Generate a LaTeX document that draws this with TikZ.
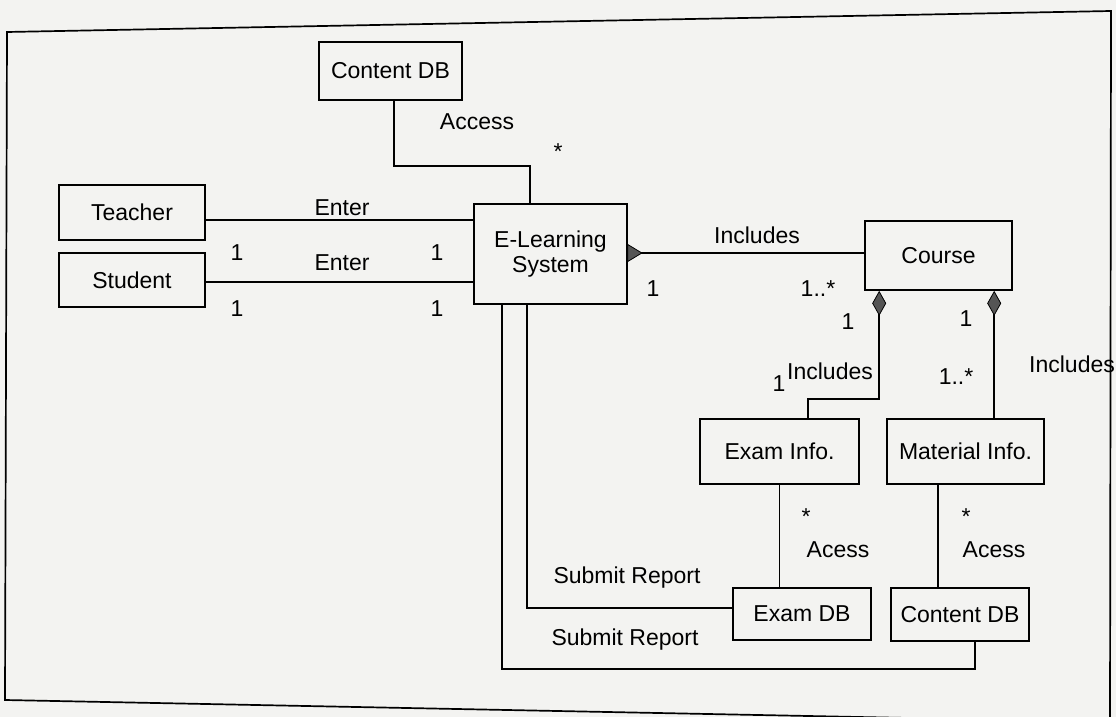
\documentclass[tikz,border=0pt]{standalone}
\usepackage{fontspec}
\setmainfont{Liberation Sans}
\usetikzlibrary{arrows.meta}
\definecolor{paper}{HTML}{F3F3F1}
\definecolor{diamondfill}{HTML}{555555}
\begin{document}
\begin{tikzpicture}[x=1pt,y=-1pt,
  every node/.style={font=\fontsize{23}{25}\selectfont},
  cls/.style={draw, line width=1.6pt, inner sep=0pt, fill=paper, align=center},
  conn/.style={line width=1.5pt},
  agg/.style={conn, {Diamond[fill=diamondfill, length=25pt, width=14pt, line width=0.8pt]}-},
  lbl/.style={inner sep=0pt}]
% paper and outer frame
\fill[paper] (0,0) rectangle (1116,717);
\useasboundingbox (0,0) rectangle (1116,717);
\draw[line width=1.7pt] (7,32) -- (1111,11) -- (1110,722) -- (5,700) -- cycle;

% classes
\node[cls, minimum width=143pt, minimum height=58pt] (cdbtop) at (390.5,71) {Content DB};
\node[cls, minimum width=146pt, minimum height=55pt] (teacher) at (132,212.5) {Teacher};
\node[cls, minimum width=146pt, minimum height=54pt] (student) at (132,280) {Student};
\node[cls, minimum width=153pt, minimum height=100pt] (els) at (550.5,254) {E-Learning\\System};
\node[cls, minimum width=147pt, minimum height=69pt] (course) at (938.5,255.5) {Course};
\node[cls, minimum width=159pt, minimum height=65pt] (examinfo) at (779.5,451.5) {Exam Info.};
\node[cls, minimum width=157pt, minimum height=65pt] (matinfo) at (965.5,451.5) {Material Info.};
\node[cls, minimum width=138pt, minimum height=52pt] (examdb) at (802,614) {Exam DB};
\node[cls, minimum width=138pt, minimum height=53pt] (cdbbot) at (960,614.5) {Content DB};

% associations
\draw[conn] ([xshift=3.5pt]cdbtop.south) -- ++(0,65) -| ([xshift=-20.5pt]els.north);
\draw[conn] ([yshift=-7.5pt]teacher.east) coordinate (t1) -- (t1 -| els.west);
\draw[conn] ([yshift=-2pt]student.east) coordinate (s1) -- (s1 -| els.west);
\draw[conn] ([yshift=1pt]els.east) coordinate (e1) -- (e1 -| course.west);
\fill[diamondfill, draw=black, line width=0.8pt] (e1) ++(0,-8.5) -- ++(14,8.5) -- ++(-14,8.5) -- cycle;
\draw[agg] ([xshift=15pt]course.south west) -- ++(0,108) -| ([xshift=28.5pt]examinfo.north);
\draw[agg] ([xshift=130pt]course.south west) coordinate (c2) -- (c2 |- matinfo.north);
\draw[conn] (examinfo.south) -- (examinfo.south |- examdb.north);
\draw[conn] ([xshift=-27.5pt]matinfo.south) coordinate (m1) -- (m1 |- cdbbot.north);
\draw[conn] ([xshift=-23.5pt]els.south) |- ([yshift=6pt]examdb.west);
\draw[conn] ([xshift=-48.5pt]els.south) -- ++(0,364) -| ([xshift=15pt]cdbbot.south);

% role names and multiplicities
\node[lbl] (l1) at (477,122) {Access};
\node[lbl] (l2) at (558,152) {*};
\node[lbl] (l3) at (342,208) {Enter};
\node[lbl] (l4) at (342,263) {Enter};
\node[lbl] (l5) at (237,253) {1};
\node[lbl] (l6) at (437,253) {1};
\node[lbl] (l7) at (237,309) {1};
\node[lbl] (l8) at (437,309) {1};
\node[lbl] (l9) at (757,235) {Includes};
\node[lbl] (l10) at (653,289) {1};
\node[lbl] (l11) at (818,289) {1..*};
\node[lbl] (l12) at (848,322) {1};
\node[lbl] (l13) at (966,319) {1};
\node[lbl] (l14) at (830,371) {Includes};
\node[lbl] (l15) at (779,384) {1};
\node[lbl] (l16) at (956,377) {1..*};
\node[lbl] (l17) at (1072,364) {Includes};
\node[lbl] (l18) at (806,517) {*};
\node[lbl] (l19) at (838,550) {Acess};
\node[lbl] (l20) at (966,517) {*};
\node[lbl] (l21) at (994,550) {Acess};
\node[lbl] (l22) at (627,578) {Submit Report};
\node[lbl] (l23) at (625,640) {Submit Report};
\end{tikzpicture}
\end{document}
